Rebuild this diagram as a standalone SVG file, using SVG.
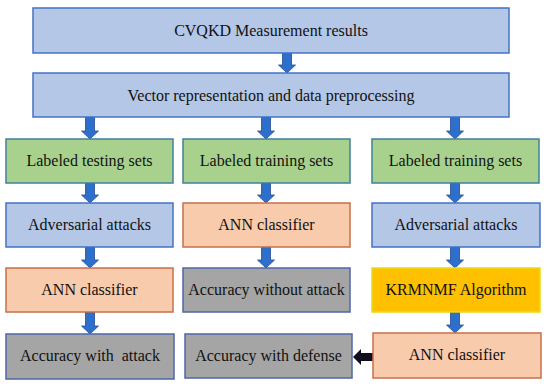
<svg xmlns="http://www.w3.org/2000/svg" width="550" height="388" viewBox="0 0 550 388">
<style>
  .box{stroke-width:1.5}
  .blue{fill:#B4C7E7;stroke:#4472C4}
  .green{fill:#A9D18E;stroke:#41809C}
  .orange{fill:#F8CBAD;stroke:#C8704A}
  .gray{fill:#A5A5A5;stroke:#4F67A8}
  .yellow{fill:#FFC000;stroke:#E8DC10}
  text{font-family:'Liberation Serif','Times New Roman','DejaVu Serif',serif;font-size:16px;fill:#111;text-anchor:middle;white-space:pre}
  .arr{fill:#2E6FCC;stroke:#1F4E99;stroke-width:0.8}
  .blk{fill:#0E0E1E}
</style>
<rect width="550" height="388" fill="#fff"/>
<g id="connectors">
  <path class="arr" d="M282.5,53 H291.5 V65 H295.5 L287,73 L278.5,65 H282.5 Z"/>
  <path class="arr" d="M85.5,117 H94.5 V131 H98.5 L90,139 L81.5,131 H85.5 Z"/>
  <path class="arr" d="M261.5,117 H270.5 V131 H274.5 L266,139 L257.5,131 H261.5 Z"/>
  <path class="arr" d="M450.5,117 H459.5 V131 H463.5 L455,139 L446.5,131 H450.5 Z"/>
  <path class="arr" d="M85.5,183 H94.5 V195 H98.5 L90,203 L81.5,195 H85.5 Z"/>
  <path class="arr" d="M261.5,183 H270.5 V195 H274.5 L266,203 L257.5,195 H261.5 Z"/>
  <path class="arr" d="M450.5,183 H459.5 V195 H463.5 L455,203 L446.5,195 H450.5 Z"/>
  <path class="arr" d="M85.5,247 H94.5 V260 H98.5 L90,268 L81.5,260 H85.5 Z"/>
  <path class="arr" d="M261.5,247 H270.5 V260 H274.5 L266,268 L257.5,260 H261.5 Z"/>
  <path class="arr" d="M450.5,247 H459.5 V260 H463.5 L455,268 L446.5,260 H450.5 Z"/>
  <path class="arr" d="M85.5,312 H94.5 V326 H98.5 L90,334 L81.5,326 H85.5 Z"/>
  <path class="arr" d="M450.5,312 H459.5 V325 H463.5 L455,333 L446.5,325 H450.5 Z"/>
  <path class="blk" d="M373,353 H361 V349 L353,357 L361,365 V361 H373 Z"/>
</g>
<g id="n1"><rect class="box blue" x="33" y="8" width="476" height="45"/><text x="271" y="36">CVQKD Measurement results</text></g>
<g id="n2"><rect class="box blue" x="33" y="73" width="476" height="44"/><text x="271" y="101">Vector representation and data preprocessing</text></g>
<g id="n3"><rect class="box green" x="6" y="139" width="167" height="44"/><text x="89.5" y="166">Labeled testing sets</text></g>
<g id="n4"><rect class="box green" x="183" y="139" width="167" height="44"/><text x="266.5" y="166">Labeled training sets</text></g>
<g id="n5"><rect class="box green" x="372" y="139" width="167" height="44"/><text x="455.5" y="166">Labeled training sets</text></g>
<g id="n6"><rect class="box blue" x="6" y="203" width="167" height="44"/><text x="89.5" y="230">Adversarial attacks</text></g>
<g id="n7"><rect class="box orange" x="183" y="203" width="167" height="44"/><text x="266.5" y="230">ANN classifier</text></g>
<g id="n8"><rect class="box blue" x="372" y="203" width="168" height="44"/><text x="456" y="230">Adversarial attacks</text></g>
<g id="n9"><rect class="box orange" x="6" y="268" width="167" height="44"/><text x="89.5" y="295">ANN classifier</text></g>
<g id="n10"><rect class="box gray" x="183" y="268" width="167" height="44"/><text x="266.5" y="295">Accuracy without attack</text></g>
<g id="n11"><rect class="box yellow" x="372" y="268" width="168" height="44"/><text x="456" y="295">KRMNMF Algorithm</text></g>
<g id="n12"><rect class="box gray" x="6" y="334" width="168" height="45"/><text x="90" y="361" xml:space="preserve">Accuracy with  attack</text></g>
<g id="n13"><rect class="box gray" x="185" y="334" width="167" height="44"/><text x="268.5" y="361">Accuracy with defense</text></g>
<g id="n14"><rect class="box orange" x="373" y="333" width="168" height="45"/><text x="457" y="360">ANN classifier</text></g>
</svg>
